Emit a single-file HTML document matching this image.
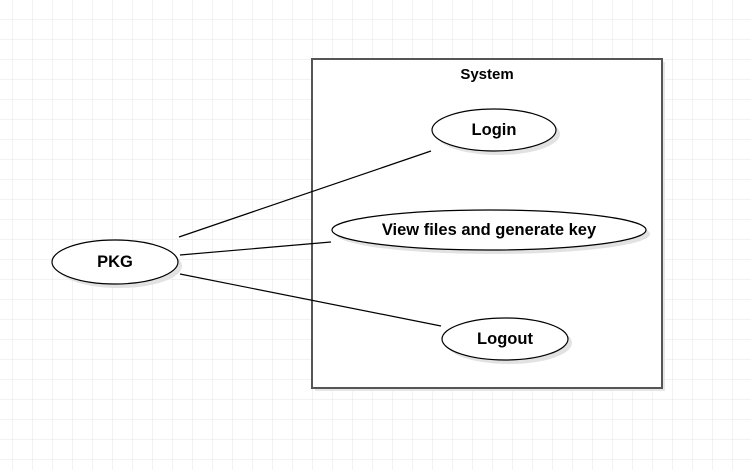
<!DOCTYPE html><html><head><style>body{margin:0;background:#fff}svg{display:block}</style></head><body>
<svg width="751" height="470" xmlns="http://www.w3.org/2000/svg" font-family="Liberation Sans, sans-serif">
<defs><pattern id="g" x="12" y="19" width="20" height="20" patternUnits="userSpaceOnUse"><path d="M0 0H20M0 0V20" stroke="#e6e6e6" stroke-width="1" fill="none"/></pattern></defs>
<rect width="751" height="470" fill="#fff"/>
<rect width="751" height="470" fill="url(#g)"/>
<rect x="315" y="62" width="350" height="329" fill="#e6e6e6"/>
<rect x="312" y="59" width="350" height="329" fill="#fff" stroke="#555" stroke-width="2"/>
<text x="487" y="79" text-anchor="middle" font-size="15" font-weight="bold">System</text>
<g fill="#e2e2e2"><ellipse cx="498" cy="134" rx="62" ry="21"/><ellipse cx="493" cy="234" rx="157" ry="20"/><ellipse cx="509" cy="343" rx="63" ry="21"/><ellipse cx="119" cy="266" rx="63" ry="22"/></g>
<g stroke="#000" stroke-width="1.2" fill="none"><line x1="179" y1="237" x2="431" y2="151"/><line x1="180" y1="255" x2="331" y2="242"/><line x1="180" y1="274" x2="441" y2="326"/></g>
<g fill="#fff" stroke="#000" stroke-width="1.2"><ellipse cx="494" cy="130" rx="62" ry="21"/><ellipse cx="489" cy="230" rx="157" ry="20"/><ellipse cx="505" cy="339" rx="63" ry="21"/><ellipse cx="115" cy="262" rx="63" ry="22"/></g>
<g font-size="16.5" font-weight="bold" text-anchor="middle"><text x="494" y="135">Login</text><text x="489" y="235">View files and generate key</text><text x="505" y="344">Logout</text><text x="115" y="267">PKG</text></g>
</svg></body></html>
